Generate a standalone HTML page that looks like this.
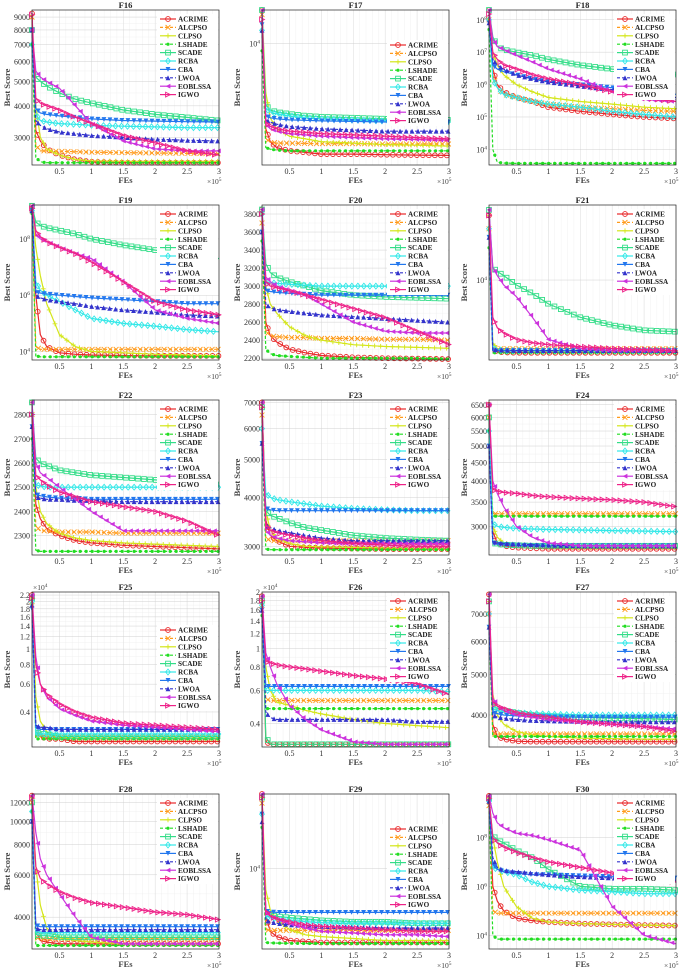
<!DOCTYPE html>
<html><head><meta charset="utf-8">
<style>
body{margin:0;background:#fff;}
svg{display:block;font-family:"Liberation Serif",serif;}
</style></head>
<body>
<svg id="chart" width="685" height="975" viewBox="0 0 685 975"></svg>
<script>
const X_FES = [0.07,0.13,0.2,0.3,0.5,0.75,1,1.5,2,2.5,3];
const X_TICKS = [0.5,1,1.5,2,2.5,3];
const ALGOS = ["ACRIME","ALCPSO","CLPSO","LSHADE","SCADE","RCBA","CBA","LWOA","EOBLSSA","IGWO"];
const COLORS = ["#e8282a","#ff9a1a","#d4e61a","#22dd22","#33dd88","#33e8e8","#2277ee","#3333cc","#cc33dd","#ee2288"];

const F16_vals = [
[9300,3200,2900,2700,2550,2450,2400,2380,2380,2380,2380],
[9000,2800,2650,2650,2640,2630,2620,2610,2600,2590,2580],
[8000,4000,3000,2700,2550,2450,2420,2410,2410,2410,2410],
[7000,2500,2400,2380,2380,2380,2380,2380,2380,2380,2380],
[8000,5200,5000,4800,4500,4250,4100,3850,3700,3600,3500],
[7000,3700,3500,3450,3400,3380,3350,3320,3300,3280,3280],
[8000,3900,3750,3700,3650,3600,3550,3500,3480,3460,3450],
[8000,3500,3350,3250,3150,3100,3050,3000,2950,2920,2900],
[8000,5500,5200,5000,4700,4000,3400,2900,2700,2650,2650],
[9200,4300,4100,4000,3850,3600,3400,3050,2850,2650,2550]];
const F17_vals = [
[16000,3000,2500,2300,2200,2150,2100,2100,2080,2070,2060],
[15000,2600,2500,2450,2450,2440,2430,2430,2420,2420,2420],
[16000,5000,3500,3000,2700,2600,2500,2450,2400,2380,2350],
[9000,2300,2250,2220,2200,2200,2200,2200,2200,2200,2200],
[16000,4200,3900,3800,3700,3600,3550,3500,3450,3400,3400],
[12000,4000,3800,3700,3600,3500,3450,3400,3350,3300,3300],
[13000,3600,3500,3450,3400,3380,3350,3330,3300,3300,3300],
[12000,3400,3300,3200,3100,3050,3000,2950,2900,2900,2900],
[16000,3200,3000,2900,2800,2750,2700,2650,2600,2580,2550],
[14000,3300,3100,3000,2900,2850,2800,2750,2700,2650,2600]];
const F18_vals = [
[2e8,3e6,1e6,6e5,4e5,3e5,2e5,1.5e5,1.2e5,1e5,9e4],
[1e8,2e6,8e5,5e5,4e5,3e5,2.5e5,2e5,1.8e5,1.6e5,1.5e5],
[1e8,1e7,4e6,2e6,1e6,6e5,4e5,3e5,2.5e5,2e5,1.8e5],
[5e7,1e4,4000,3800,3700,3700,3700,3700,3700,3700,3700],
[2e8,3e7,1.5e7,1.2e7,1e7,8e6,6e6,4e6,3e6,2.5e6,2e6],
[1e8,1.5e6,8e5,5e5,4e5,3e5,2.5e5,2e5,1.5e5,1.2e5,1e5],
[8e7,4e6,3e6,2.5e6,2e6,1.5e6,1.2e6,1e6,8e5,6e5,5e5],
[8e7,6e6,4e6,3e6,2e6,1.5e6,1.2e6,9e5,7e5,5e5,4e5],
[2e8,2.5e7,1.5e7,1.2e7,8e6,5e6,3e6,1.5e6,6e5,3.5e5,3e5],
[1.5e8,1e7,6e6,4e6,3e6,2e6,1.5e6,1e6,6e5,4e5,3e5]];
const F19_vals = [
[1.5e9,1e6,4e4,1.5e4,9000,8000,7500,7200,7000,7000,7000],
[1e9,1.5e4,1.2e4,1.2e4,1.2e4,1.2e4,1.2e4,1.2e4,1.2e4,1.2e4,1.2e4],
[1e9,5e7,5e6,5e5,4e4,1.5e4,1e4,9000,8000,7500,7000],
[8e8,7000,6500,6500,6500,6500,6500,6500,6500,6500,6500],
[1.5e9,4e8,3e8,2.5e8,2e8,1.5e8,1e8,6e7,4e7,3e7,2e7],
[1e9,3e6,1.5e6,1e6,6e5,3e5,1.5e5,1e5,8e4,6e4,5e4],
[1e9,1.3e6,1.2e6,1.1e6,1e6,9e5,8e5,7e5,6e5,5e5,5e5],
[1e9,1e6,8e5,7e5,6e5,5e5,4e5,3e5,2.5e5,2e5,1.8e5],
[1.5e9,1.5e8,1e8,8e7,5e7,3e7,2e7,3e6,3e5,1.5e5,1e5],
[1.2e9,2e8,1.2e8,8e7,5e7,3e7,1.5e7,3e6,6e5,3e5,2e5]];
const F20_vals = [
[3850,2600,2450,2380,2300,2260,2230,2210,2200,2195,2190],
[3700,2500,2450,2440,2430,2430,2420,2420,2410,2410,2400],
[3800,3000,2800,2700,2550,2450,2400,2350,2330,2320,2310],
[3500,2300,2250,2230,2220,2210,2200,2200,2200,2200,2190],
[3850,3250,3150,3100,3050,3000,2950,2900,2880,2870,2860],
[3800,3050,3040,3030,3020,3010,3000,3000,3000,3000,3000],
[3600,2950,2940,2930,2920,2910,2900,2900,2900,2900,2900],
[3600,2800,2760,2740,2720,2700,2680,2660,2640,2620,2600],
[3850,3100,3050,3000,2950,2900,2800,2600,2500,2480,2480],
[3800,3050,3000,2980,2950,2900,2850,2750,2650,2500,2350]];
const F21_vals = [
[4e4,2200,2150,2120,2100,2100,2100,2100,2100,2100,2100],
[3e4,2300,2300,2300,2300,2300,2300,2300,2300,2300,2300],
[4e4,2600,2300,2250,2200,2150,2150,2150,2150,2150,2150],
[2e4,2100,2100,2100,2100,2100,2100,2100,2100,2100,2100],
[4.5e4,1.3e4,1.2e4,1.1e4,9000,7500,6000,4500,3800,3400,3300],
[3e4,2300,2250,2200,2200,2200,2200,2200,2200,2200,2200],
[2.5e4,2200,2200,2200,2200,2200,2200,2200,2200,2200,2200],
[2.5e4,2250,2230,2220,2200,2200,2200,2200,2200,2200,2200],
[4.5e4,1.3e4,1.1e4,9000,7000,4500,2800,2300,2200,2200,2200],
[4e4,4500,3600,3200,2800,2600,2500,2400,2300,2250,2200]];
const F22_vals = [
[2850,2430,2370,2330,2300,2280,2270,2260,2255,2250,2245],
[2800,2340,2320,2320,2315,2315,2315,2310,2310,2310,2310],
[2850,2500,2400,2350,2310,2290,2280,2270,2265,2260,2255],
[2700,2240,2235,2235,2235,2235,2235,2235,2235,2235,2235],
[2850,2620,2600,2590,2570,2560,2550,2540,2530,2520,2510],
[2800,2510,2505,2500,2500,2500,2500,2500,2500,2500,2500],
[2750,2470,2465,2460,2455,2455,2450,2450,2450,2450,2450],
[2750,2460,2455,2450,2450,2445,2445,2440,2440,2440,2440],
[2850,2600,2560,2540,2500,2450,2400,2320,2320,2320,2320],
[2800,2550,2530,2510,2480,2460,2440,2420,2400,2360,2300]];
const F23_vals = [
[7000,3500,3200,3100,3000,2980,2970,2960,2950,2950,2950],
[6500,3150,3100,3100,3100,3100,3100,3100,3100,3100,3100],
[6800,3700,3300,3150,3050,3000,2990,2980,2970,2960,2950],
[5500,2950,2940,2940,2940,2940,2940,2940,2940,2940,2940],
[6800,3700,3600,3550,3450,3350,3300,3200,3150,3120,3100],
[6000,4100,4000,3950,3900,3850,3800,3750,3720,3700,3700],
[5500,3750,3720,3700,3700,3700,3700,3700,3700,3700,3700],
[5500,3400,3350,3300,3250,3200,3150,3100,3100,3100,3100],
[7000,3300,3200,3150,3100,3080,3060,3050,3050,3050,3050],
[6800,3400,3300,3250,3200,3150,3100,3050,3020,3000,3000]];
const F24_vals = [
[6500,2900,2700,2650,2620,2610,2600,2600,2600,2600,2600],
[6000,3250,3250,3250,3250,3250,3250,3250,3250,3250,3250],
[6500,3000,2800,2700,2650,2640,2630,2620,2620,2620,2620],
[5500,3200,3200,3200,3200,3200,3200,3200,3200,3200,3200],
[6000,2700,2680,2670,2660,2650,2650,2650,2650,2650,2650],
[5500,3050,3000,2980,2960,2950,2940,2930,2920,2910,2900],
[5000,2700,2680,2670,2660,2650,2650,2650,2650,2650,2650],
[5000,2720,2700,2690,2680,2670,2660,2650,2650,2650,2650],
[6500,4000,3700,3400,3000,2800,2700,2650,2650,2650,2650],
[6500,3800,3750,3720,3700,3650,3620,3580,3550,3500,3400]];
const F25_vals = [
[2.2,0.3,0.28,0.27,0.27,0.26,0.26,0.26,0.26,0.26,0.26],
[2.0,0.29,0.28,0.28,0.28,0.28,0.28,0.28,0.28,0.28,0.28],
[2.1,0.5,0.35,0.3,0.28,0.27,0.27,0.27,0.27,0.27,0.27],
[1.9,0.27,0.27,0.27,0.27,0.27,0.27,0.27,0.27,0.27,0.27],
[2.1,0.3,0.29,0.29,0.28,0.28,0.28,0.28,0.28,0.28,0.28],
[2.0,0.29,0.29,0.29,0.29,0.29,0.29,0.29,0.29,0.29,0.29],
[1.8,0.32,0.31,0.31,0.31,0.31,0.31,0.31,0.31,0.31,0.31],
[1.9,0.33,0.32,0.32,0.31,0.31,0.31,0.31,0.31,0.31,0.31],
[2.2,0.9,0.6,0.5,0.42,0.38,0.35,0.33,0.32,0.31,0.3],
[2.1,0.8,0.6,0.52,0.45,0.4,0.37,0.34,0.33,0.32,0.31]];
const F26_vals = [
[1.9,0.32,0.31,0.31,0.31,0.31,0.31,0.31,0.31,0.31,0.31],
[1.7,0.54,0.53,0.53,0.53,0.53,0.53,0.53,0.53,0.53,0.53],
[1.8,0.8,0.6,0.52,0.5,0.47,0.45,0.42,0.4,0.39,0.38],
[1.5,0.48,0.48,0.48,0.48,0.48,0.48,0.48,0.48,0.48,0.48],
[1.8,0.34,0.31,0.31,0.31,0.31,0.31,0.31,0.31,0.31,0.31],
[1.7,0.6,0.6,0.6,0.6,0.6,0.6,0.6,0.6,0.6,0.59],
[1.6,0.63,0.63,0.63,0.63,0.63,0.63,0.63,0.63,0.63,0.63],
[1.6,0.46,0.43,0.42,0.42,0.42,0.42,0.42,0.42,0.41,0.41],
[1.9,0.95,0.8,0.65,0.5,0.42,0.37,0.32,0.31,0.31,0.31],
[1.8,0.86,0.84,0.82,0.8,0.78,0.76,0.72,0.69,0.65,0.57]];
const F27_vals = [
[7800,3800,3550,3500,3460,3450,3450,3450,3450,3450,3450],
[7000,3600,3600,3600,3600,3600,3600,3600,3600,3600,3600],
[7500,4500,4000,3800,3650,3580,3550,3520,3510,3500,3500],
[6500,3550,3550,3550,3550,3550,3550,3550,3550,3550,3550],
[7500,4200,4150,4100,4050,4000,3980,3950,3930,3920,3900],
[7000,4150,4100,4080,4050,4030,4020,4000,4000,4000,4000],
[6500,4050,4030,4000,3980,3970,3960,3950,3950,3950,3950],
[6500,4000,3950,3930,3900,3880,3870,3860,3850,3850,3850],
[7800,4400,4200,4100,4000,3950,3900,3850,3800,3750,3700],
[7500,4300,4200,4150,4050,4000,3950,3850,3800,3750,3650]];
const F28_vals = [
[12800,3500,3200,3150,3100,3100,3100,3100,3100,3100,3100],
[12000,3300,3250,3250,3250,3250,3250,3250,3250,3250,3250],
[12500,6500,4500,3600,3300,3200,3150,3100,3100,3100,3100],
[11000,3050,3050,3050,3050,3050,3050,3050,3050,3050,3050],
[12000,3400,3350,3350,3300,3300,3300,3300,3300,3300,3300],
[11000,3500,3450,3450,3450,3450,3450,3450,3450,3450,3450],
[10000,3700,3650,3650,3650,3650,3650,3650,3650,3650,3650],
[10000,3600,3550,3550,3550,3550,3550,3550,3550,3550,3550],
[12800,9000,7000,6000,5000,4000,3300,3100,3100,3100,3100],
[12500,6500,5800,5500,5100,4800,4600,4400,4200,4100,3900]];
const F29_vals = [
[35000,4500,3500,3200,3000,2950,2900,2900,2900,2900,2900],
[30000,3600,3550,3550,3550,3550,3550,3550,3550,3550,3550],
[33000,7000,5000,4200,3600,3300,3200,3100,3000,3000,3000],
[20000,2900,2880,2870,2860,2850,2850,2850,2850,2850,2850],
[33000,4800,4600,4500,4400,4300,4200,4100,4100,4000,4000],
[25000,4500,4400,4300,4200,4100,4050,4000,4000,4000,4000],
[25000,4900,4850,4800,4800,4800,4800,4800,4800,4800,4800],
[22000,4200,4100,4000,3900,3850,3800,3750,3700,3700,3700],
[35000,4800,4500,4300,4000,3700,3500,3400,3300,3300,3200],
[33000,5000,4500,4300,4100,3900,3800,3700,3600,3500,3500]];
const F30_vals = [
[5e9,1e6,2.5e5,1e5,5e4,4e4,3.5e4,3e4,2.8e4,2.6e4,2.5e4],
[2e9,1e5,8e4,8e4,8e4,8e4,8e4,8e4,8e4,8e4,8e4],
[4e9,1e8,1e7,1e6,1.5e5,5e4,3.5e4,3e4,2.8e4,2.6e4,2.5e4],
[3e9,1e4,7000,7000,7000,7000,7000,7000,7000,7000,7000],
[4e9,1.2e8,8e7,6e7,3e7,1.5e7,5e6,1e6,8e5,8e5,7e5],
[3e9,6e6,5e6,4e6,3e6,1.5e6,1e6,7e5,6e5,5e5,5e5],
[3e9,8e6,5e6,4e6,3.5e6,3e6,3e6,2.7e6,2.5e6,2.3e6,2.2e6],
[3e9,1.5e7,6e6,4.5e6,4e6,3.5e6,3e6,2.5e6,2.2e6,2e6,1.8e6],
[5e9,1e9,4e8,2.5e8,1.5e8,1.2e8,8e7,3e7,1.5e5,1e4,4500],
[4e9,1e8,6e7,4e7,2.5e7,1.5e7,1e7,6e6,3.5e6,2.5e6,1.5e6]];

const F16_ticks=[3000,4000,5000,6000,7000,8000,9000];
const F17_ticks=[1e4];
const F18_ticks=[1e4,1e5,1e6,1e7,1e8];
const F19_ticks=[1e4,1e6,1e8];
const F20_ticks=[2200,2400,2600,2800,3000,3200,3400,3600,3800];
const F21_ticks=[1e4];
const F22_ticks=[2300,2400,2500,2600,2700,2800];
const F23_ticks=[3000,4000,5000,6000,7000];
const F24_ticks=[3000,3500,4000,4500,5000,5500,6000,6500];
const F25_ticks=[0.4,0.6,0.8,1,1.2,1.4,1.6,1.8,2,2.2];
const F26_ticks=[0.4,0.6,0.8,1,1.2,1.4,1.6,1.8,2];
const F27_ticks=[4000,5000,6000,7000];
const F28_ticks=[4000,6000,8000,10000,12000];
const F29_ticks=[1e4];
const F30_ticks=[1e4,1e6,1e8];

const PANELS = [
 {t:"F16",c:0,r:0,d:[2330,9600],v:F16_vals,k:F16_ticks,p:false,lg:4},
 {t:"F17",c:1,r:0,d:[1800,16000],v:F17_vals,k:F17_ticks,p:true,lg:30},
 {t:"F18",c:2,r:0,d:[3300,2e8],v:F18_vals,k:F18_ticks,p:true,lg:4},
 {t:"F19",c:0,r:1,d:[5000,1.6e9],v:F19_vals,k:F19_ticks,p:true,lg:4},
 {t:"F20",c:1,r:1,d:[2180,3900],v:F20_vals,k:F20_ticks,p:false,lg:4,lin:true},
 {t:"F21",c:2,r:1,d:[1800,5e4],v:F21_vals,k:F21_ticks,p:true,lg:4},
 {t:"F22",c:0,r:2,d:[2220,2860],v:F22_vals,k:F22_ticks,p:false,lg:4,lin:true},
 {t:"F23",c:1,r:2,d:[2850,7100],v:F23_vals,k:F23_ticks,p:false,lg:4},
 {t:"F24",c:2,r:2,d:[2500,6700],v:F24_vals,k:F24_ticks,p:false,lg:4},
 {t:"F25",c:0,r:3,d:[0.24,2.3],v:F25_vals,k:F25_ticks,p:false,lg:33,e4:true},
 {t:"F26",c:1,r:3,d:[0.3,2.0],v:F26_vals,k:F26_ticks,p:false,lg:4,e4:true},
 {t:"F27",c:2,r:3,d:[3350,7900],v:F27_vals,k:F27_ticks,p:false,lg:4},
 {t:"F28",c:0,r:4,d:[2950,13000],v:F28_vals,k:F28_ticks,p:false,lg:4},
 {t:"F29",c:1,r:4,d:[2600,35000],v:F29_vals,k:F29_ticks,p:true,lg:30},
 {t:"F30",c:2,r:4,d:[2750,6e9],v:F30_vals,k:F30_ticks,p:true,lg:4}
];
const COL_L=[32,262,489], ROW_T=[10,205,400,592,794], PW=187, PH=155;
const NS="http://www.w3.org/2000/svg";
const svg=document.getElementById('chart');
function mk(tag,attrs,parent){const e=document.createElementNS(NS,tag);for(const a in attrs)e.setAttribute(a,attrs[a]);parent.appendChild(e);return e;}

function marker(g,i,x,y,col){
  const s=2.4;let e;
  if(i===0){e=mk('circle',{cx:x,cy:y,r:s,fill:'none',stroke:col,'stroke-width':0.9},g);}
  else if(i===1){e=mk('path',{d:`M${x-s} ${y-s}L${x+s} ${y+s}M${x-s} ${y+s}L${x+s} ${y-s}`,stroke:col,'stroke-width':0.9},g);}
  else if(i===2){e=mk('path',{d:`M${x-s} ${y}L${x+s} ${y}M${x} ${y-s}L${x} ${y+s}`,stroke:col,'stroke-width':0.9},g);}
  else if(i===3){e=mk('circle',{cx:x,cy:y,r:1.6,fill:col},g);}
  else if(i===4){e=mk('rect',{x:x-s,y:y-s,width:2*s,height:2*s,fill:'none',stroke:col,'stroke-width':0.9},g);}
  else if(i===5){e=mk('path',{d:`M${x} ${y-s-0.5}L${x+s} ${y}L${x} ${y+s+0.5}L${x-s} ${y}Z`,fill:'none',stroke:col,'stroke-width':0.9},g);}
  else if(i===6){e=mk('path',{d:`M${x-s} ${y-s}L${x+s} ${y-s}L${x} ${y+s}Z`,fill:col},g);}
  else if(i===7){e=mk('path',{d:`M${x-s} ${y+s}L${x+s} ${y+s}L${x} ${y-s}Z`,fill:col},g);}
  else if(i===8){e=mk('path',{d:`M${x+s} ${y-s}L${x+s} ${y+s}L${x-s} ${y}Z`,fill:col},g);}
  else {e=mk('path',{d:`M${x-s} ${y-s}L${x-s} ${y+s}L${x+s} ${y}Z`,fill:'none',stroke:col,'stroke-width':0.9},g);}
  
  
}

PANELS.forEach(P=>{
  const L=COL_L[P.c], T=ROW_T[P.r], R=L+PW, B=T+PH;
  const g=mk('g',{},svg);
  
  
  const xs=v=>L+(v-0.07)/(3-0.07)*PW;
  const lo=P.lin?P.d[0]:Math.log10(P.d[0]), hi=P.lin?P.d[1]:Math.log10(P.d[1]);
  const ys=v=>{const t=P.lin?v:Math.log10(v);return B-(t-lo)/(hi-lo)*PH;};
  const bg=mk('rect',{x:L,y:T,width:PW,height:PH,fill:'#fff',stroke:'none'},g);
  
  // minor x grid
  for(let m=1;m<=29;m++){
    const v=m/10; if(v<0.07) continue;
    const ml=mk('line',{x1:xs(v),x2:xs(v),y1:T,y2:B,stroke:'#eeeeee','stroke-width':0.4},g);
    
  }
  // minor y grid (midpoints between ticks, linear-style panels)
  if(!P.p){
    for(let j=0;j<P.k.length-1;j++){
      const v=(P.k[j]+P.k[j+1])/2;
      const ml=mk('line',{x1:L,x2:R,y1:ys(v),y2:ys(v),stroke:'#eeeeee','stroke-width':0.4},g);
      
    }
  }
  X_TICKS.forEach(v=>{
    const gl=mk('line',{x1:xs(v),x2:xs(v),y1:T,y2:B,stroke:'#dcdcdc','stroke-width':0.5},g);
    
    const tl=mk('text',{x:xs(v),y:B+9,'font-size':8,'text-anchor':'middle',fill:'#333'},g);
    tl.textContent=String(v);
    
  });
  P.k.forEach(v=>{
    const y=ys(v);
    const gl=mk('line',{x1:L,x2:R,y1:y,y2:y,stroke:'#d0d0d0','stroke-width':0.5},g);
    
    const tl=mk('text',{x:L-2,y:y+3,'font-size':8,'text-anchor':'end',fill:'#333'},g);
    if(P.p){tl.textContent='10';const sp=mk('tspan',{dy:-3,'font-size':5.5},tl);sp.textContent=String(Math.round(Math.log10(v)));}
    else tl.textContent=String(v);
    
  });
  const cp='cp'+P.t;
  const cl=mk('clipPath',{id:cp},g);mk('rect',{x:L-3,y:T-3,width:PW+6,height:PH+6},cl);
  const sg=mk('g',{'clip-path':`url(#${cp})`},g);
  P.v.forEach((vals,i)=>{
    const col=COLORS[i];
    const d=vals.map((v,j)=>(j?'L':'M')+xs(X_FES[j]).toFixed(1)+' '+ys(v).toFixed(1)).join('');
    const dash=(i===1||i===3||i===7)?'3,2':'none';
    const pth=mk('path',{d:d,fill:'none',stroke:col,'stroke-width':1.2,'stroke-dasharray':dash},sg);
    
    
    const len=pth.getTotalLength();
    let lastX=-99;
    for(let s=0;s<=len;s+=1){
      const pt=pth.getPointAtLength(s);
      if(pt.x-lastX>=5.6){marker(sg,i,pt.x,pt.y,col);lastX=pt.x;}
    }
  });
  const fr=mk('rect',{x:L,y:T,width:PW,height:PH,fill:'none',stroke:'#222','stroke-width':0.7},g);
  
  const tt=mk('text',{x:(L+R)/2,y:T-2,'font-size':8.5,'font-weight':'bold','text-anchor':'middle',fill:'#222'},g);
  tt.textContent=P.t;
  const xl=mk('text',{x:(L+R)/2,y:B+18,'font-size':8.5,'font-weight':'bold','text-anchor':'middle',fill:'#444'},g);
  xl.textContent='FEs';
  const ex=mk('text',{x:R-12,y:B+19,'font-size':7.5,fill:'#444'},g);
  ex.textContent='×10';const es=mk('tspan',{dy:-3,'font-size':5.5},ex);es.textContent='5';
  
  if(P.e4){
    const e4=mk('text',{x:L+1,y:T-2,'font-size':7.5,fill:'#444'},g);
    e4.textContent='×10';const s4=mk('tspan',{dy:-3,'font-size':5.5},e4);s4.textContent='4';
    
  }
  const yl=mk('text',{x:0,y:0,'font-size':8.5,'font-weight':'bold','text-anchor':'middle',fill:'#444',transform:`translate(${L-22},${(T+B)/2}) rotate(-90)`},g);
  yl.textContent='Best Score';
  const lx=R-62, ly=T+P.lg, lg=mk('g',{},g);
  
  mk('rect',{x:lx,y:ly,width:61,height:86,fill:'#fff',stroke:'none'},lg);
  ALGOS.forEach((a,i)=>{
    const y=ly+5+i*8.4, col=COLORS[i];
    const ent=mk('g',{},lg);
    
    
    mk('line',{x1:lx+3,x2:lx+19,y1:y,y2:y,stroke:col,'stroke-width':1.2,'stroke-dasharray':(i===1||i===3||i===7)?'3,2':'none'},ent);
    marker(ent,i,lx+11,y,col);
    const tx=mk('text',{x:lx+21,y:y+2.6,'font-size':7.2,'font-weight':'bold',fill:'#222'},ent);
    tx.textContent=a;
  });
});
</script>
</body></html>
